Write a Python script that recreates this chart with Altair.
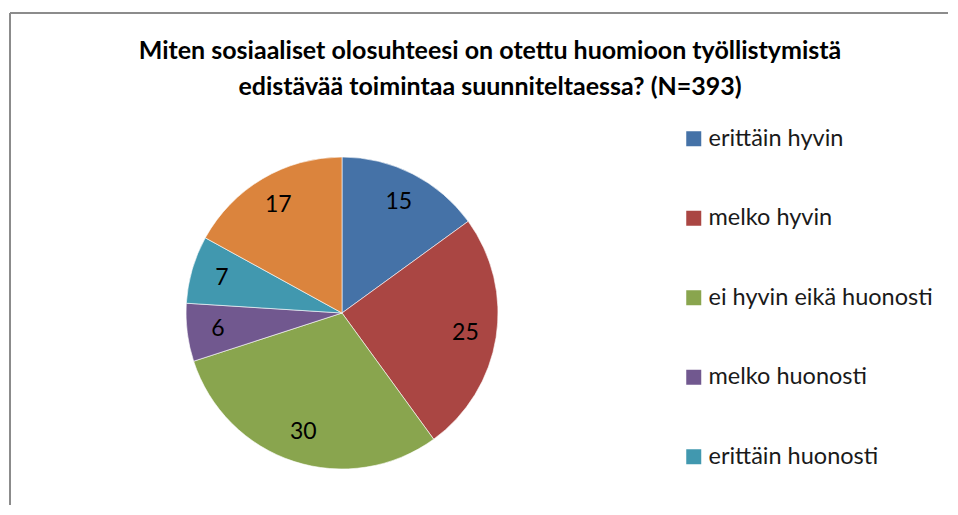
import altair as alt
import pandas as pd

categories = ["erittäin hyvin", "melko hyvin", "ei hyvin eikä huonosti",
              "melko huonosti", "erittäin huonosti", "en osaa sanoa"]
values = [15, 25, 30, 6, 7, 17]
colors = ["#4572A7", "#AA4643", "#89A54E", "#71588F", "#4198AF", "#DB843D"]
legend_items = categories[:5]
title_lines = ["Miten sosiaaliset olosuhteesi on otettu huomioon työllistymistä",
               "edistävää toimintaa suunniteltaessa? (N=393)"]

df = pd.DataFrame({"kategoria": categories, "arvo": values,
                   "jarjestys": list(range(len(categories)))})

FONT = "Lato"
W, H = 940, 497
CX, CY = 334, 305
R = 156

pie = alt.Chart(df).mark_arc(outerRadius=R, stroke="white", strokeWidth=0.6).encode(
    theta=alt.Theta("arvo:Q", stack=True),
    order=alt.Order("jarjestys:Q"),
    color=alt.Color(
        "kategoria:N",
        scale=alt.Scale(domain=categories, range=colors),
        sort=categories,
        legend=alt.Legend(
            values=legend_items, title=None, orient="none",
            legendX=674, legendY=119, symbolType="square", symbolSize=225,
            symbolStrokeWidth=0, labelFontSize=23.5, labelFont=FONT,
            labelColor="#1a1a1a", rowPadding=54.5, labelOffset=3,
            labelLimit=300,
        ),
    ),
    x=alt.value(CX), y=alt.value(CY),
)

labels = alt.Chart(df).mark_text(radius=125, fontSize=23, font=FONT, color="black").encode(
    theta=alt.Theta("arvo:Q", stack=True),
    order=alt.Order("jarjestys:Q"),
    text="arvo:Q",
    x=alt.value(CX), y=alt.value(CY),
)

frame_left = alt.Chart(df).mark_rule(color="#8c8c8c", strokeWidth=1.6).encode(
    x=alt.value(2), y=alt.value(5), y2=alt.value(H + 20))
frame_top = alt.Chart(df).mark_rule(color="#8c8c8c", strokeWidth=1.6).encode(
    x=alt.value(2), x2=alt.value(W + 20), y=alt.value(5))

chart = alt.layer(frame_left, frame_top, pie, labels).properties(
    width=W, height=H,
    autosize=alt.AutoSizeParams(type="none"),
    padding=0,
    title=alt.TitleParams(text=title_lines, font=FONT, fontSize=25, fontWeight="bold",
                          color="black", anchor="middle", dx=12, dy=96, lineHeight=36),
).configure_view(stroke=None)

chart.save("out.html", embed_options={"renderer": "svg", "actions": False})
